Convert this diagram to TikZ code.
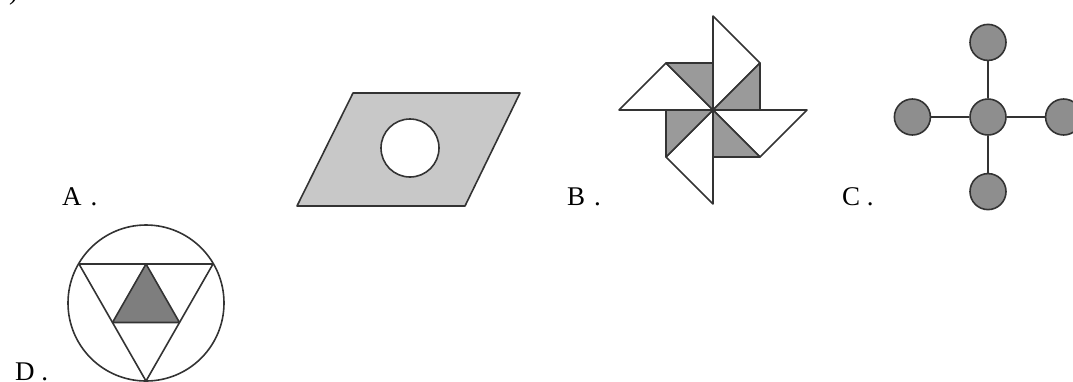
\documentclass[tikz,border=0pt]{standalone}
\usepackage{fontspec}
\setmainfont{Liberation Serif}
\usepackage{xcolor}
\usetikzlibrary{positioning,calc}
\definecolor{lightfill}{HTML}{C8C8C8}
\definecolor{midfill}{HTML}{9A9A9A}
\definecolor{ballfill}{HTML}{8E8E8E}
\definecolor{darkfill}{HTML}{7E7E7E}
\definecolor{edgegray}{HTML}{333333}
\tikzset{
  optlbl/.style={anchor=base west, inner sep=0pt, font=\fontsize{27}{32}\selectfont},
  outline/.style={draw=edgegray, line width=1.6pt, line join=round},
  ball/.style={circle, draw=edgegray, line width=1.6pt, fill=ballfill, minimum size=36pt, inner sep=0pt},
  spoke/.style={draw=edgegray, line width=1.5pt},
}
\begin{document}
\begin{tikzpicture}[x=1pt, y=-1pt]
    \useasboundingbox (0,0) rectangle (1073,381);
    \node[optlbl] (bracket) at (9,-1) {)};

    \node[optlbl] (labA) at (62,205) {A\hspace{0.33em}.};
    \draw[outline, fill=lightfill] (353,93) -- (520,93) -- (465,206) -- (297,206) -- cycle;
    \draw[outline, fill=white] (410,148) circle[radius=29];

    \node[optlbl] (labB) at (567,205) {B\hspace{0.33em}.};
    \begin{scope}[shift={(713,110)}]
      \foreach \r in {0,-90,-180,-270}{
        \draw[outline, fill=white, rotate=\r] (0,0) -- (0,-94) -- (47,-47) -- cycle;
        \draw[outline, fill=midfill, rotate=\r] (0,0) -- (47,-47) -- (47,0) -- cycle;
      }
    \end{scope}

    \node[optlbl] (labC) at (842,205) {C\hspace{0.25em}.};
    \node[ball] (hub) at (988,117) {};
    \node[ball, above=37pt of hub] (top) {};
    \node[ball, below=37pt of hub] (bottom) {};
    \node[ball, left=38pt of hub] (left) {};
    \node[ball, right=38pt of hub] (right) {};
    \foreach \a/\b in {hub/top, hub/bottom, hub/left, hub/right}{\draw[spoke] (\a)--(\b);}

    \node[optlbl] (labD) at (15,380) {D\hspace{0.25em}.};
    \draw[outline] (146,303) circle[radius=78];
    \draw[outline] (79,264) -- (213,264) -- (146,381) -- cycle;
    \draw[outline, fill=darkfill] (146,264) -- (179.5,322.5) -- (112.5,322.5) -- cycle;
  \end{tikzpicture}
\end{document}
